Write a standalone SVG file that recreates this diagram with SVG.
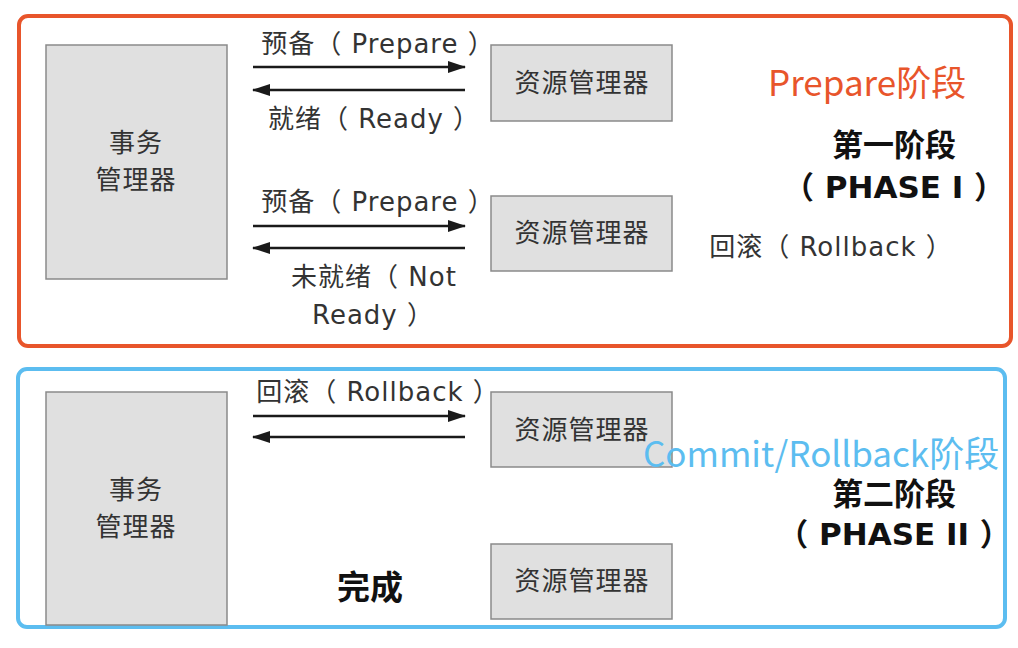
<svg xmlns="http://www.w3.org/2000/svg" width="1018" height="648" viewBox="0 0 1018 648">
<defs>
<marker id="ah" viewBox="0 0 18 12" refX="17" refY="6" markerWidth="18" markerHeight="12" markerUnits="userSpaceOnUse" orient="auto-start-reverse">
<path d="M0,0 L18,6 L0,12 Z" fill="#1a1a1a"/>
</marker>
</defs>
<style>
.box{fill:#e0e0e0;stroke:#8a8a8a;stroke-width:1.5}
.t{font-family:"DejaVu Sans","Noto Sans CJK SC",sans-serif;font-size:26px;letter-spacing:1px;fill:#333;dominant-baseline:central}
.c{text-anchor:middle}
.b{font-weight:bold;fill:#111;font-size:31px;letter-spacing:0}
.ln{stroke:#1a1a1a;stroke-width:2.5;fill:none}
.ph{font-family:"Noto Sans CJK SC","Noto Sans",sans-serif;font-size:35px;dominant-baseline:central}
</style>
<rect width="1018" height="648" fill="#ffffff"/>
<g id="frame-prepare">
<rect x="19" y="16" width="992" height="330" rx="9" fill="none" stroke="#e8552b" stroke-width="4"/>
</g>
<g id="frame-commit">
<rect x="18" y="369" width="987" height="258" rx="9" fill="none" stroke="#5cbdf0" stroke-width="4"/>
</g>
<g id="tm1">
<rect class="box" x="46" y="45" width="181" height="234"/>
<text class="t c" x="136" y="143">事务</text>
<text class="t c" x="136" y="180">管理器</text>
</g>
<g id="rm1">
<rect class="box" x="491" y="45" width="181" height="76"/>
<text class="t c" x="582" y="83">资源管理器</text>
</g>
<g id="rm2">
<rect class="box" x="491" y="196" width="181" height="75"/>
<text class="t c" x="582" y="233">资源管理器</text>
</g>
<g id="tm2">
<rect class="box" x="46" y="392" width="181" height="233"/>
<text class="t c" x="136" y="490">事务</text>
<text class="t c" x="136" y="527">管理器</text>
</g>
<g id="rm3">
<rect class="box" x="491" y="392" width="181" height="75"/>
<text class="t c" x="582" y="430">资源管理器</text>
</g>
<g id="rm4">
<rect class="box" x="491" y="544" width="181" height="75"/>
<text class="t c" x="582" y="581">资源管理器</text>
</g>
<g id="connectors">
<line class="ln" x1="253" y1="67" x2="465" y2="67" marker-end="url(#ah)"/>
<line class="ln" x1="465" y1="90" x2="253" y2="90" marker-end="url(#ah)"/>
<line class="ln" x1="253" y1="226" x2="465" y2="226" marker-end="url(#ah)"/>
<line class="ln" x1="465" y1="248" x2="253" y2="248" marker-end="url(#ah)"/>
<line class="ln" x1="253" y1="416" x2="465" y2="416" marker-end="url(#ah)"/>
<line class="ln" x1="465" y1="437" x2="253" y2="437" marker-end="url(#ah)"/>
</g>
<g id="labels">
<text class="t c" x="378" y="44">预备（ Prepare ）</text>
<text class="t c" x="374" y="119">就绪（ Ready ）</text>
<text class="t c" x="378" y="202">预备（ Prepare ）</text>
<text class="t c" x="374" y="277">未就绪（ Not</text>
<text class="t c" x="373" y="315">Ready ）</text>
<text class="t c" x="378" y="392">回滚（ Rollback ）</text>
<text class="t c" x="831" y="247">回滚（ Rollback ）</text>
<text class="t c b" x="894" y="145">第一阶段</text>
<text class="t c b" x="894" y="187">（ PHASE I ）</text>
<text class="t c b" x="894" y="494">第二阶段</text>
<text class="t c b" x="894" y="534">（ PHASE II ）</text>
<text class="t c b" x="370" y="587" style="font-size:33px">完成</text>
<text class="ph" x="768" y="80" fill="#e8552b">Prepare阶段</text>
<text class="ph" x="643" y="451" fill="#5cbdf0">Commit/Rollback阶段</text>
</g>
</svg>
